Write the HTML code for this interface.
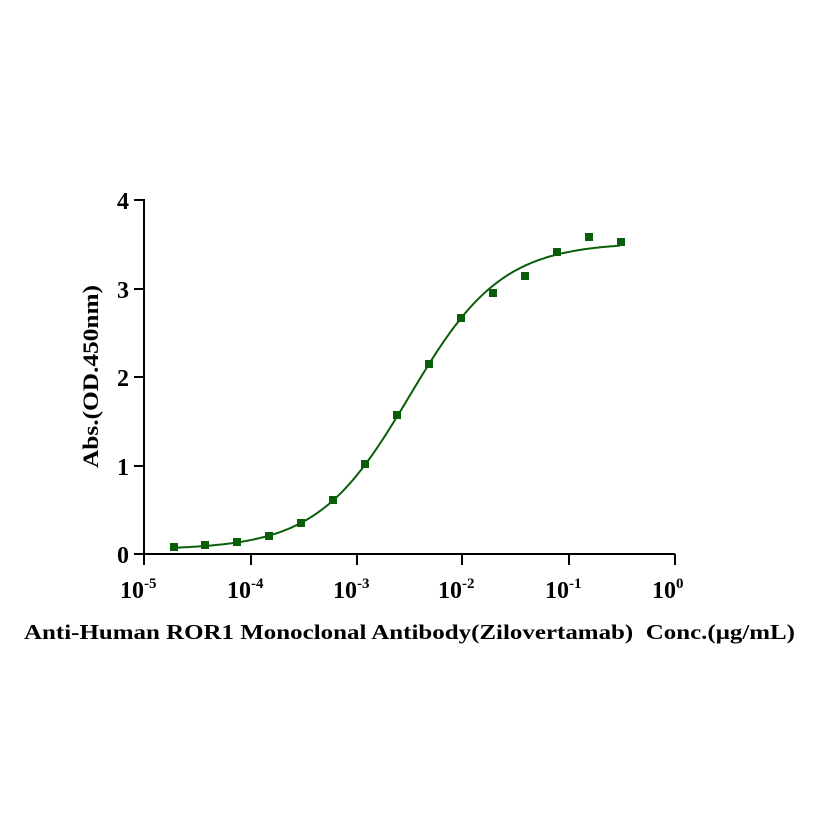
<!DOCTYPE html>
<html><head><meta charset="utf-8"><style>
html,body{margin:0;padding:0;background:#fff;}
svg{display:block;}
text{font-family:"Liberation Serif",serif;font-weight:bold;fill:#000;}
</style></head><body>
<svg id="s" width="821" height="821" viewBox="0 0 821 821" xmlns="http://www.w3.org/2000/svg">
<rect width="821" height="821" fill="#fff"/>
<g stroke="#000" stroke-width="2" fill="none">
<line x1="144" y1="199" x2="144" y2="554"/>
<line x1="143" y1="554" x2="675" y2="554"/>
<line x1="134" y1="200" x2="144" y2="200"/>
<line x1="134" y1="289" x2="144" y2="289"/>
<line x1="134" y1="377" x2="144" y2="377"/>
<line x1="134" y1="466" x2="144" y2="466"/>
<line x1="134" y1="554" x2="144" y2="554"/>
<line x1="144" y1="554" x2="144" y2="565"/>
<line x1="251" y1="554" x2="251" y2="565"/>
<line x1="357" y1="554" x2="357" y2="565"/>
<line x1="462" y1="554" x2="462" y2="565"/>
<line x1="569" y1="554" x2="569" y2="565"/>
<line x1="675" y1="554" x2="675" y2="565"/>
</g>
<g font-size="24" text-anchor="end">
<text x="129" y="209">4</text>
<text x="129" y="298">3</text>
<text x="129" y="386">2</text>
<text x="129" y="475">1</text>
<text x="129" y="563">0</text>
</g>
<g font-size="24">
<text x="120" y="598">10<tspan font-size="15" dy="-10">-5</tspan></text>
<text x="227" y="598">10<tspan font-size="15" dy="-10">-4</tspan></text>
<text x="333" y="598">10<tspan font-size="15" dy="-10">-3</tspan></text>
<text x="438" y="598">10<tspan font-size="15" dy="-10">-2</tspan></text>
<text x="545" y="598">10<tspan font-size="15" dy="-10">-1</tspan></text>
<text x="652" y="598">10<tspan font-size="15" dy="-10">0</tspan></text>
</g>
<text font-size="22" transform="translate(98,468) rotate(-90)" textLength="183" lengthAdjust="spacingAndGlyphs">Abs.(OD.450nm)</text>
<text font-size="21" x="24" y="639" textLength="771" lengthAdjust="spacingAndGlyphs" xml:space="preserve">Anti-Human ROR1 Monoclonal Antibody(Zilovertamab)  Conc.(μg/mL)</text>
<path id="curve" fill="none" stroke="#0a5e0a" stroke-width="2"/>
<g fill="#0a5e0a">
<rect x="170" y="543" width="8" height="8"/>
<rect x="201" y="541" width="8" height="8"/>
<rect x="233" y="538" width="8" height="8"/>
<rect x="265" y="532" width="8" height="8"/>
<rect x="297" y="519" width="8" height="8"/>
<rect x="329" y="496" width="8" height="8"/>
<rect x="361" y="460" width="8" height="8"/>
<rect x="393" y="411" width="8" height="8"/>
<rect x="425" y="360" width="8" height="8"/>
<rect x="457" y="314" width="8" height="8"/>
<rect x="489" y="289" width="8" height="8"/>
<rect x="521" y="272" width="8" height="8"/>
<rect x="553" y="248" width="8" height="8"/>
<rect x="585" y="233" width="8" height="8"/>
<rect x="617" y="238" width="8" height="8"/>
</g>
</svg>
<script>
var d="";
for(var px=174;px<=621;px+=2){
 var lg=-5+(px-144)/106.2;
 var dx=lg-(-2.5);
 var v=0.05+3.47/(1+Math.pow(10,-1.0*dx));
 var py=554-v*88.5;
 d+=(d?"L":"M")+px+","+py.toFixed(1);
}
document.getElementById("curve").setAttribute("d",d);
</script>
</body></html>
